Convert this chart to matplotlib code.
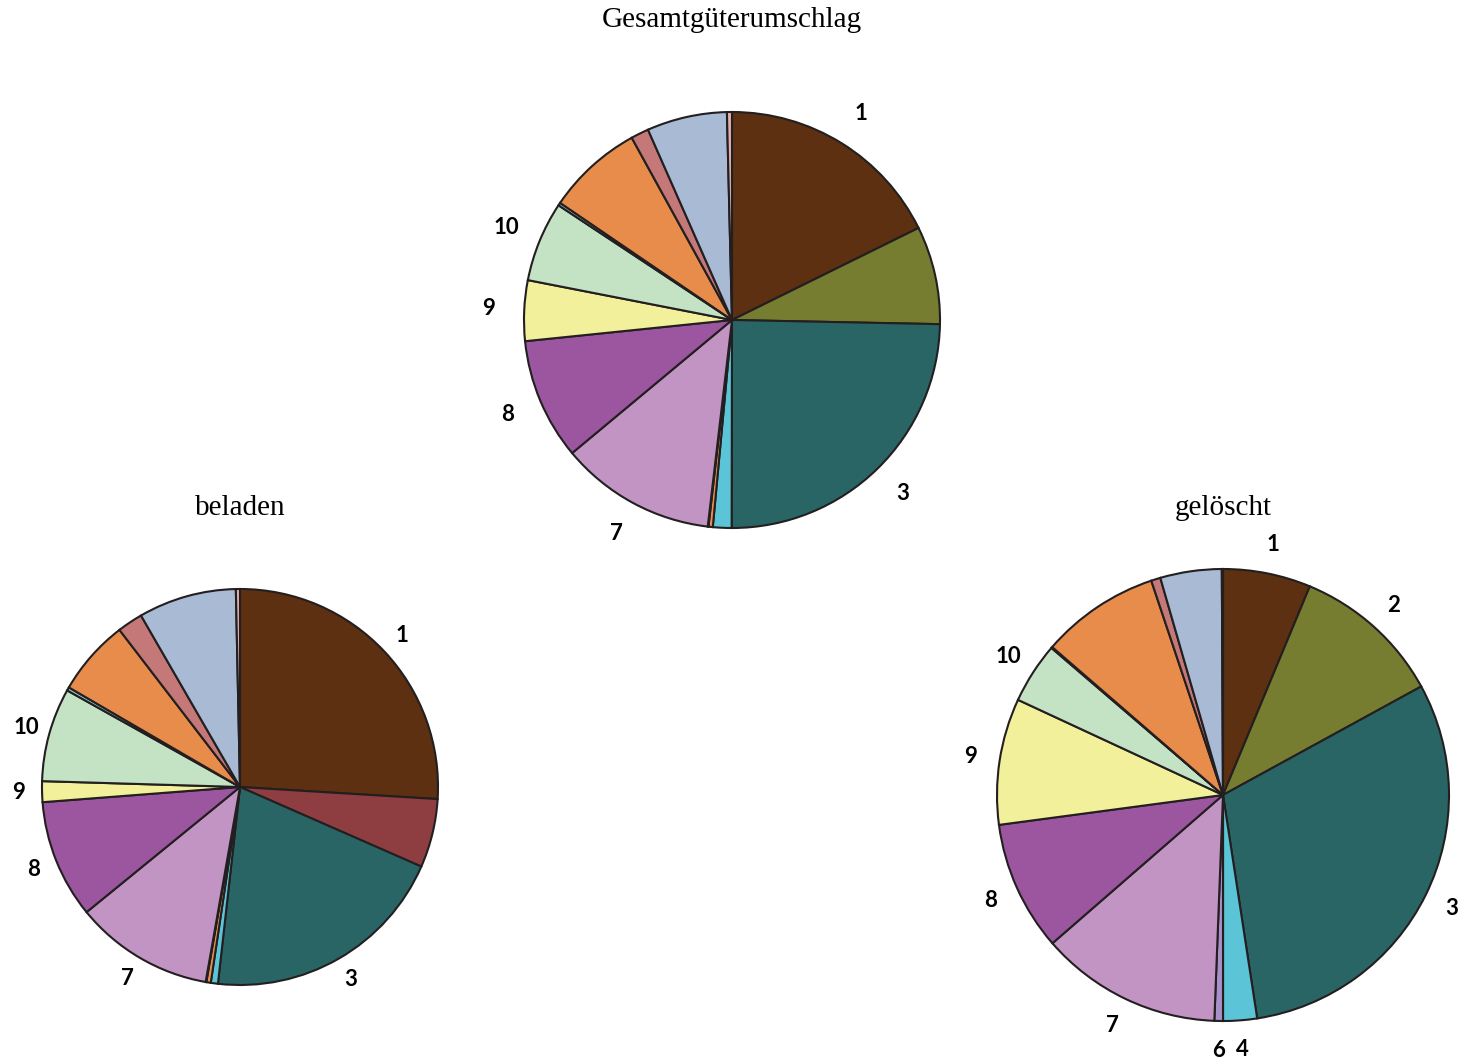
import matplotlib.pyplot as plt

# categories 1..15, clockwise from 12 o'clock
categories = [str(i) for i in range(1, 16)]

# slice sizes (in degrees of the circle)
gesamt = [63.7, 27.4, 88.9, 5.2, 1.2, 0.2, 43.5, 33.9, 16.9, 22.4, 0.8, 26.9, 5.0, 22.4, 1.4]
beladen = [93.5, 20.2, 72.7, 2.1, 1.3, 0.2, 40.8, 34.8, 6.1, 27.5, 1.0, 22.3, 7.5, 28.8, 1.2]
geloescht = [22.6, 38.7, 110.0, 8.7, 0.0, 2.2, 46.8, 33.4, 32.5, 15.7, 0.3, 30.6, 2.4, 15.8, 0.3]

# which categories get a label on each pie
gesamt_labels = ['1', '', '3', '', '', '', '7', '8', '9', '10', '', '', '', '', '']
beladen_labels = ['1', '', '3', '', '', '', '7', '8', '9', '10', '', '', '', '', '']
geloescht_labels = ['1', '2', '3', '4', '', '6', '7', '8', '9', '10', '', '', '', '', '']

colors = ['#5C3010', '#767D30', '#2A6566', '#5BC5D7', '#E8904C', '#A890C8', '#C294C4',
          '#9C56A0', '#F2F09A', '#C4E2C4', '#8CC8C8', '#E88C4C', '#C47878', '#A8BAD4', '#E0B0B0']
colors_beladen = list(colors)
colors_beladen[1] = '#8E3E40'

W, H = 1458, 1062
fig = plt.figure(figsize=(W / 100, H / 100), dpi=100)
ax = fig.add_axes([0, 0, 1, 1])

# (values, labels, colours, centre x, centre y (from top), radius, label distance, title, title y)
pies = [
    (gesamt, gesamt_labels, colors, 732, 320, 208, 1.17, 'Gesamtgüterumschlag', 20),
    (beladen, beladen_labels, colors_beladen, 240, 787, 198, 1.12, 'beladen', 508),
    (geloescht, geloescht_labels, colors, 1223, 795, 226, 1.13, 'gelöscht', 508),
]

for vals, labs, cols, cx, cy, r, ld, title, ty in pies:
    wedges, texts = ax.pie(vals, labels=labs, colors=cols, startangle=90, counterclock=False,
                           center=(cx, H - cy), radius=r, labeldistance=ld,
                           wedgeprops=dict(edgecolor='#231F20', linewidth=1.5))
    for t in texts:
        t.set_ha('center')
        t.set_va('center')
        t.set_fontsize(16)
        t.set_fontweight('bold')
        t.set_family('Lato')
        t.set_color('black')
    ax.text(cx, H - ty, title, ha='center', va='center', fontsize=21,
            family='Liberation Serif')

ax.set_xlim(0, W)
ax.set_ylim(0, H)
ax.set_aspect('equal')
ax.axis('off')

fig.savefig('out.png', dpi=100)
